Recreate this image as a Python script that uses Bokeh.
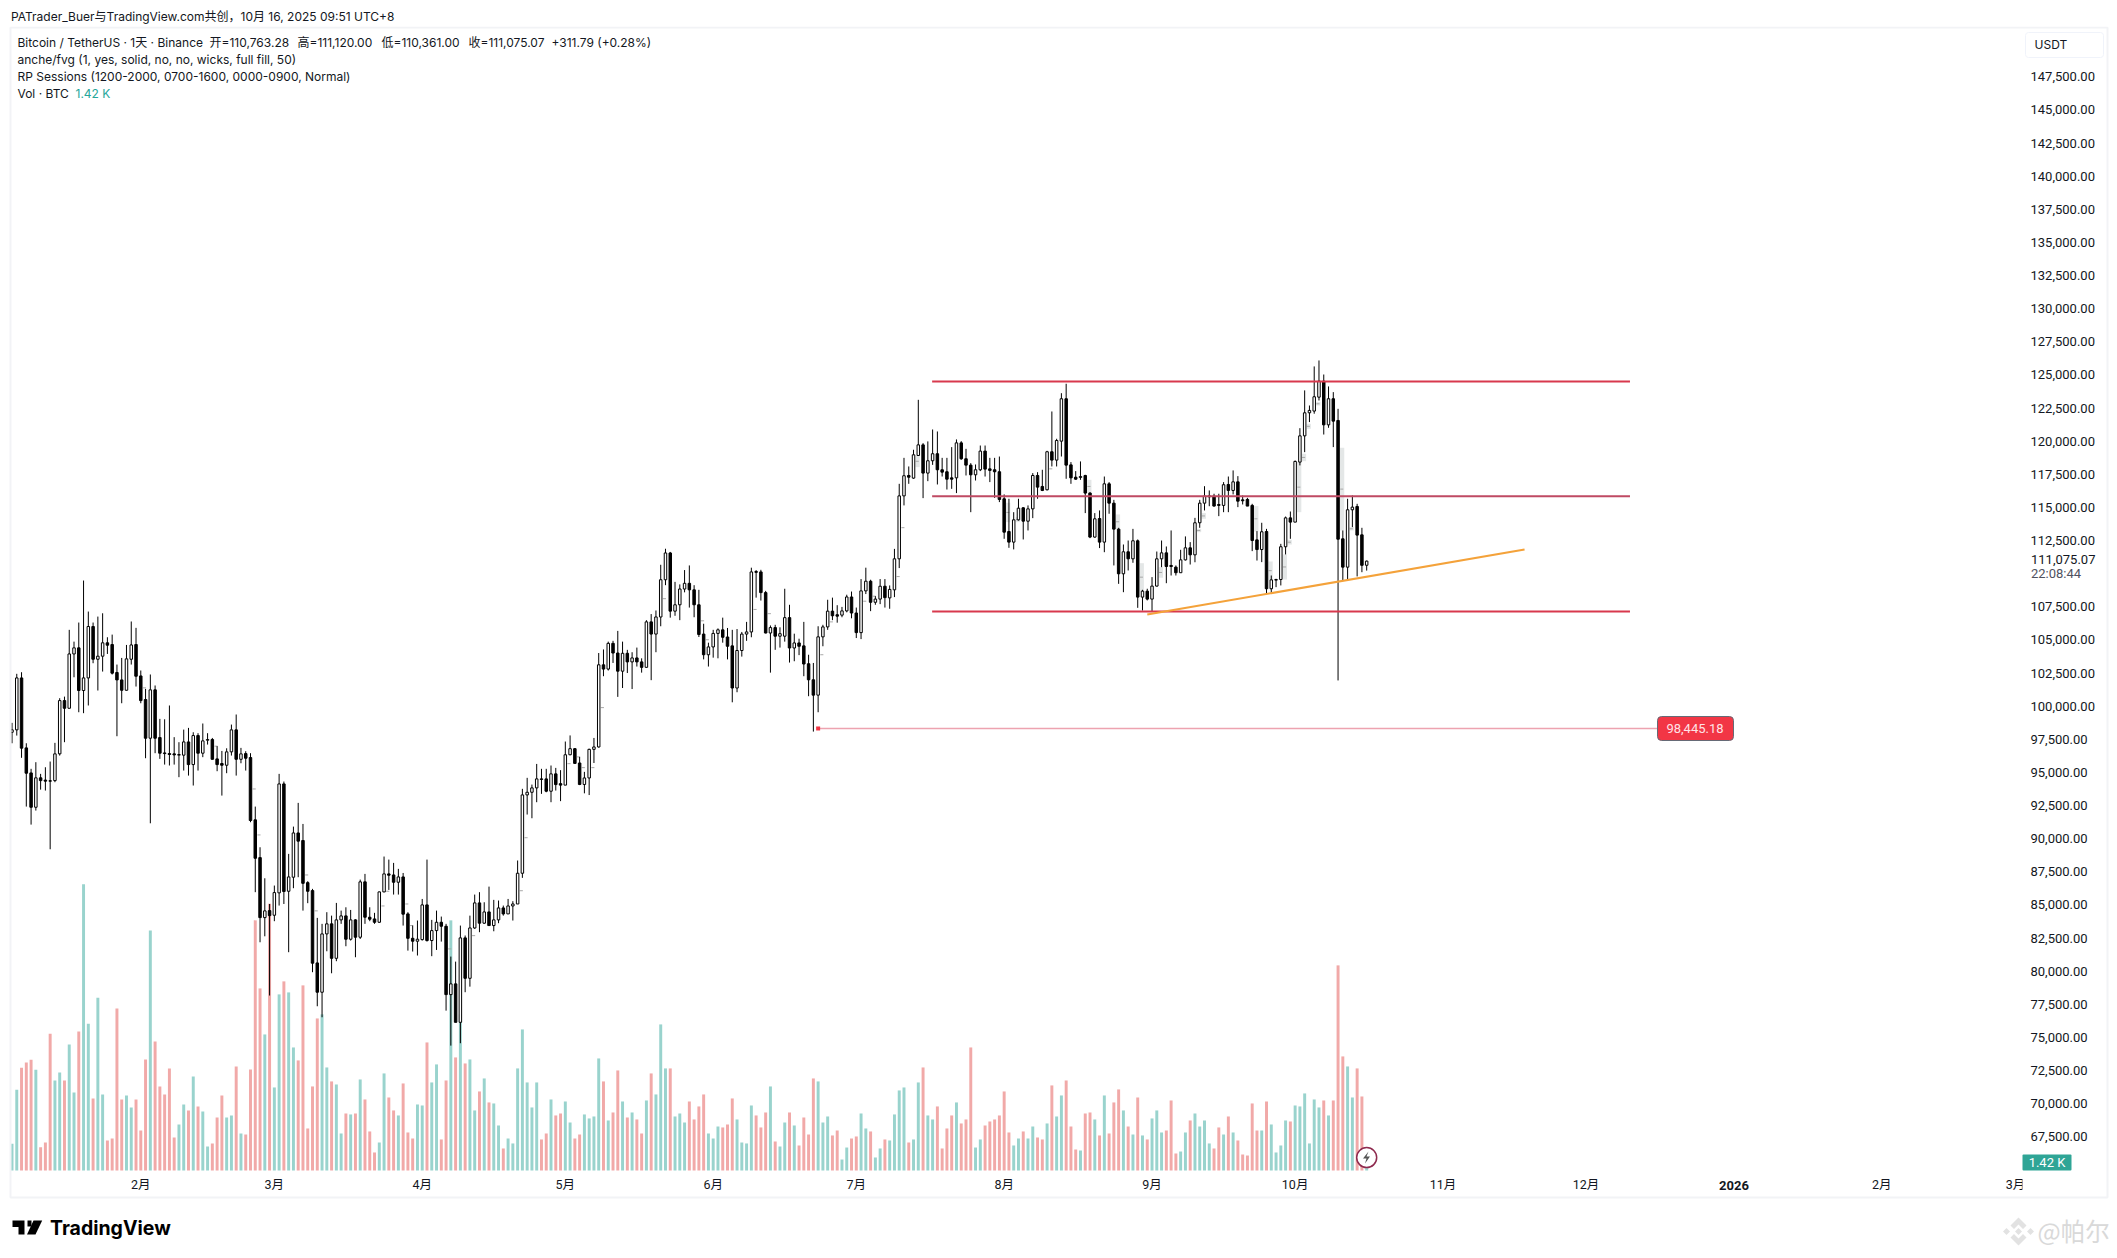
import numpy as np
from bokeh.plotting import figure
from bokeh.models import (Range1d, FixedTicker, NumeralTickFormatter, Label, BoxAnnotation,
                          PolyAnnotation, ColumnDataSource)
from bokeh.embed import file_html
from bokeh.resources import INLINE

# Daily BTC/USDT candles (thousands of USDT), first = 5 Jan 2025
opens = [98.16,98.34,102.26,96.98,95.09,92.50,94.72,94.55,94.50,94.51,
96.53,100.55,99.97,104.07,104.53,101.31,102.26,106.14,103.67,103.90,
104.91,104.78,102.67,102.11,101.33,103.67,104.78,102.41,100.63,97.71,
101.36,97.76,96.60,96.55,96.53,96.43,96.43,97.43,95.72,97.91,
96.58,97.56,97.61,96.15,95.80,95.67,96.68,98.34,96.12,96.55,
96.25,91.55,88.70,84.17,84.70,84.35,86.04,94.26,86.16,87.22,
90.56,89.99,86.81,86.21,80.75,78.54,82.94,83.70,81.10,84.0,
84.30,82.54,84.0,82.69,86.87,84.20,84.07,83.82,86.11,87.47,
87.39,86.84,87.24,84.45,82.61,82.39,82.51,85.13,82.44,83.19,
83.82,83.52,78.36,79.17,76.27,82.64,79.59,83.39,85.28,83.75,
84.60,83.57,84.0,84.90,84.45,85.05,85.20,87.52,93.43,93.63,
93.96,94.64,94.64,93.71,95.02,94.28,94.17,96.46,96.92,95.84,
94.22,94.71,96.87,97.05,103.25,102.93,104.87,104.14,102.77,104.12,
103.47,103.77,103.47,103.06,106.49,105.57,106.86,109.67,111.69,107.30,
107.78,108.97,109.40,108.91,107.78,105.57,104.01,104.60,105.62,105.89,
105.35,104.68,101.50,104.33,105.57,105.73,110.29,110.26,108.70,105.65,
106.06,105.41,105.41,106.81,104.52,104.90,104.68,103.33,102.12,100.96,
105.36,106.11,107.30,107.03,107.0,107.32,108.37,107.16,105.68,108.83,
109.56,107.97,108.21,109.18,108.30,108.91,111.25,116.0,117.54,117.34,
119.05,119.85,117.72,118.65,119.18,117.97,117.82,117.36,117.36,120.0,
118.80,118.32,117.59,117.97,119.38,118.04,117.97,117.82,115.78,113.31,
112.51,114.19,115.10,114.09,115.02,117.54,116.71,116.46,119.33,118.70,
120.13,123.33,118.34,117.41,117.39,117.54,116.21,112.89,114.29,112.51,
116.91,115.45,113.49,110.12,111.78,111.25,112.61,108.36,108.81,108.21,
109.19,111.25,111.70,110.75,110.62,110.20,111.17,112.08,111.55,113.97,
115.45,115.93,115.98,115.35,115.28,116.86,116.41,117.06,115.70,115.73,
115.28,112.68,111.95,113.31,108.99,109.64,109.69,112.16,114.34,114.02,
118.55,120.53,122.27,122.40,123.45,124.66,121.36,123.33,121.69,112.76,
110.62,114.95,115.20,113.06,110.76328]
highs = [98.87,102.57,102.69,97.33,95.40,95.90,95.02,95.52,95.95,97.36,
100.73,100.85,105.89,105.0,106.44,109.61,107.27,106.44,106.89,107.14,
105.33,105.53,103.27,103.77,104.75,106.52,106.04,102.82,101.43,102.52,
101.69,99.17,99.14,100.18,97.79,97.41,98.36,98.49,98.16,98.09,
98.82,98.09,97.73,97.11,96.75,96.95,98.74,99.50,96.98,96.73,
96.58,92.55,89.48,87.14,85.20,86.59,95.02,94.44,88.98,91.04,
92.83,91.24,86.92,86.34,84.15,83.70,84.58,84.32,85.28,84.70,
84.95,84.75,84.05,87.04,87.47,84.95,84.53,86.14,88.78,88.55,
88.30,87.85,87.54,84.58,83.57,83.95,85.58,88.55,84.0,84.70,
84.25,83.70,81.23,80.85,83.57,82.82,84.32,85.91,86.09,85.33,
86.51,85.51,85.46,85.08,85.58,85.41,88.48,93.89,94.72,94.21,
95.77,95.40,95.40,95.65,95.47,95.30,97.46,97.92,96.97,96.30,
95.17,96.92,97.73,104.14,104.41,105.0,105.06,105.81,105.0,104.38,
104.20,104.55,103.74,106.62,107.08,107.35,110.80,112.01,111.77,109.51,
109.32,110.40,110.75,109.26,108.91,106.35,104.92,105.89,106.0,106.81,
106.03,105.89,105.95,105.73,106.49,110.58,110.40,110.42,108.83,106.22,
106.27,106.08,108.99,107.78,105.60,105.22,106.49,104.01,103.39,106.16,
106.27,108.16,108.32,107.75,107.62,108.54,108.78,107.57,109.72,110.58,
109.67,108.43,109.72,109.72,109.24,112.0,116.91,118.87,118.22,119.48,
123.25,119.98,120.11,121.01,120.86,118.87,118.87,119.68,120.26,120.13,
119.55,118.47,118.37,119.80,119.80,118.87,118.87,118.97,116.11,115.78,
114.77,115.78,115.15,115.28,117.72,117.79,117.97,119.40,122.37,120.31,
123.75,124.46,118.55,117.87,118.60,117.59,116.28,114.70,114.90,117.46,
117.04,115.70,113.59,112.33,112.63,113.51,112.71,108.91,108.99,109.87,
111.80,112.63,112.18,113.39,110.75,111.93,112.94,112.51,114.34,115.70,
116.73,116.41,116.16,116.16,117.04,117.46,117.92,117.49,116.03,115.85,
115.40,113.34,113.97,113.51,109.99,109.74,112.38,114.44,114.82,118.67,
121.11,123.96,122.82,125.77,126.22,125.16,124.26,123.83,122.57,113.39,
115.78,116.03,115.40,113.59,111.12]
lows = [97.33,97.91,96.23,92.55,91.19,92.25,93.83,93.76,89.33,94.39,
96.40,97.41,99.97,102.31,99.67,99.60,100.18,103.37,101.31,102.74,
104.07,102.52,97.86,100.35,101.31,103.27,101.61,100.35,96.20,91.29,
96.58,96.15,95.72,95.65,95.72,94.77,95.27,94.89,94.14,95.27,
96.28,97.23,96.10,95.22,93.38,95.07,96.40,94.89,95.82,95.27,
91.37,86.09,82.31,82.76,78.29,83.90,85.08,85.20,81.56,86.39,
87.22,84.70,85.26,80.05,77.48,76.65,81.63,79.97,80.88,83.70,
82.01,82.44,81.18,82.56,83.70,83.90,83.70,83.77,86.09,86.26,
85.91,85.91,83.57,81.68,81.61,81.31,82.44,82.36,81.26,81.73,
82.36,77.15,74.51,76.27,74.69,78.54,78.96,83.32,83.07,83.70,
83.57,83.14,83.75,84.32,84.45,83.95,85.20,87.17,91.95,91.67,
92.88,93.51,93.63,92.88,93.76,92.96,94.17,96.43,95.79,94.17,
93.55,93.42,95.84,97.0,102.39,102.82,103.39,100.83,101.50,102.63,
101.42,103.12,102.66,103.04,102.09,104.20,106.16,109.26,106.81,106.95,
106.62,108.72,107.57,106.84,105.35,103.66,103.12,103.79,103.74,104.92,
103.66,100.42,101.18,103.87,105.06,105.33,108.32,108.10,105.62,102.66,
104.38,104.55,105.0,103.42,103.52,103.98,102.39,100.88,98.21,99.67,
104.65,105.89,106.62,106.43,106.84,107.21,106.76,105.27,105.19,108.59,
107.30,107.78,107.83,107.57,107.48,108.36,110.55,115.28,116.91,117.29,
119.02,115.83,117.11,118.34,116.86,117.46,116.48,116.53,116.21,118.72,
117.54,114.77,117.16,117.87,117.46,117.04,115.85,115.53,112.76,112.08,
111.96,114.14,112.71,113.39,114.32,115.78,116.36,116.41,118.22,118.22,
118.97,117.29,116.91,117.21,117.21,114.70,112.81,112.84,112.06,111.75,
114.65,110.75,109.36,108.73,110.37,110.95,107.55,107.35,108.11,107.30,
109.16,110.62,109.41,109.99,109.99,110.20,111.12,110.82,110.99,113.59,
114.90,115.22,115.20,114.47,114.77,114.77,116.11,115.15,115.35,115.23,
111.83,111.12,111.0,108.61,108.61,109.11,109.24,111.58,112.76,114.02,
118.30,119.30,121.57,122.20,123.20,120.63,121.14,119.68,102.07,109.62,
109.62,113.64,109.92,110.24,110.361]
closes = [98.34,102.26,96.96,95.07,92.50,94.72,94.51,94.47,94.47,96.53,
100.55,99.97,104.07,104.53,101.31,102.26,106.14,103.67,103.90,104.91,
104.73,102.62,102.11,101.33,103.70,104.75,102.39,100.55,97.71,101.36,
97.71,96.58,96.55,96.48,96.45,96.48,97.43,95.72,97.91,96.58,
97.51,97.61,96.12,95.72,95.67,96.68,98.34,96.12,96.53,96.20,
91.50,88.65,84.17,84.68,84.32,86.06,94.26,86.14,87.24,90.56,
89.94,86.76,86.16,80.73,78.54,82.94,83.70,81.10,84.0,84.30,
82.54,84.0,82.69,86.87,84.20,84.05,83.82,86.11,87.47,87.37,
86.84,87.24,84.43,82.61,82.39,82.54,85.13,82.44,83.19,83.82,
83.52,78.36,79.17,76.27,82.64,79.59,83.39,85.28,83.75,84.60,
83.57,84.0,84.90,84.45,85.05,85.20,87.52,93.43,93.63,93.96,
94.64,94.60,93.71,95.02,94.21,94.17,96.46,96.92,95.81,94.22,
94.71,96.87,97.05,103.25,102.93,104.87,104.14,102.77,104.12,103.47,
103.77,103.47,103.06,106.49,105.57,106.86,109.67,111.69,107.30,107.78,
108.97,109.40,108.91,107.78,105.54,104.01,104.60,105.62,105.89,105.33,
104.65,101.50,104.33,105.57,105.73,110.26,110.23,108.70,105.65,106.06,
105.41,105.60,106.81,104.52,104.90,104.65,103.31,102.12,100.96,105.36,
106.11,107.30,106.95,106.92,107.32,108.37,107.16,105.68,108.83,109.56,
107.97,108.21,109.18,108.32,108.94,111.25,116.0,117.52,117.41,119.10,
119.85,117.72,118.65,119.18,117.97,117.79,117.26,117.26,120.0,118.80,
118.32,117.59,117.97,119.38,118.02,117.92,117.82,115.73,113.26,112.51,
114.19,115.07,114.09,115.02,117.54,116.66,116.41,119.33,118.70,120.18,
123.33,118.32,117.36,117.26,117.46,116.21,112.89,114.27,112.51,116.91,
115.45,113.49,110.12,111.78,111.25,112.61,108.36,108.81,108.21,109.19,
111.25,111.70,110.67,110.67,110.20,111.17,112.08,111.55,113.97,115.45,
115.98,116.0,115.23,115.28,116.84,116.41,117.06,115.60,115.63,115.23,
112.63,111.95,113.29,108.99,109.66,109.69,112.16,114.34,114.02,118.60,
120.53,122.27,122.45,123.48,124.66,121.36,123.33,121.64,112.73,110.62,
114.95,115.15,113.04,110.76,111.07507]
# Volume in thousands of BTC
volumes = [4.74,14.33,18.23,19.18,19.65,17.88,4.14,4.97,24.27,15.98,
17.40,15.98,22.38,13.85,24.69,50.79,26.05,12.79,30.67,13.50,
5.33,5.68,28.77,12.61,13.32,11.19,12.61,7.10,19.71,42.62,
22.91,14.92,13.50,18.12,5.86,8.17,11.72,10.66,16.69,11.37,
10.48,4.26,4.80,9.41,13.32,9.41,9.77,18.47,6.57,6.39,
17.94,44.40,32.32,24.15,47.36,14.74,31.26,33.57,31.61,21.84,
19.54,32.86,7.46,14.92,26.99,27.71,18.29,15.81,15.27,6.57,
10.12,9.95,10.12,16.16,12.61,6.93,3.20,4.97,17.23,12.96,
10.66,9.77,15.45,6.75,5.68,11.72,11.54,22.73,15.63,18.83,
5.51,15.98,44.40,20.07,27.71,19.00,19.71,10.66,14.03,16.34,
12.08,11.90,7.99,3.91,5.68,4.80,18.12,25.04,15.63,11.19,
15.63,5.51,6.57,12.61,9.77,10.12,12.25,8.52,5.68,6.39,
9.95,9.24,9.59,19.89,15.81,8.88,10.30,17.76,12.25,9.41,
10.30,9.06,6.57,12.43,17.23,13.50,25.93,18.12,18.12,9.59,
10.12,8.52,12.25,9.06,11.37,13.50,6.57,5.68,7.81,7.64,
8.17,12.79,9.06,4.97,4.80,11.54,9.77,7.64,10.30,14.92,
5.15,4.26,8.52,10.30,7.99,4.44,9.41,6.39,16.34,15.81,
8.52,9.59,6.22,7.10,1.95,4.08,5.68,6.04,10.12,7.46,
6.93,2.31,3.91,5.51,5.33,9.95,14.21,14.74,4.97,5.51,
15.63,18.29,9.77,9.06,11.37,3.91,7.46,9.77,12.08,8.35,
9.06,21.84,4.08,5.51,7.99,8.70,9.06,9.77,14.03,6.75,
4.44,5.68,6.93,5.68,7.81,5.86,5.51,8.35,15.10,9.59,
13.32,15.98,7.81,3.73,3.55,10.12,10.30,9.06,6.22,13.32,
6.57,12.08,14.39,10.66,7.81,6.39,12.96,6.22,5.51,9.24,
10.66,6.75,7.10,12.43,3.02,3.37,6.75,8.88,10.12,7.81,
8.88,4.80,3.91,7.64,6.39,9.59,6.75,5.33,2.84,2.66,
11.90,7.10,7.10,12.25,8.17,3.20,4.44,8.88,8.70,11.54,
11.37,13.68,4.80,12.61,11.19,12.43,9.77,12.43,36.41,20.25,
18.47,12.96,18.12,13.14,1.42]

# Fair value gaps: candle index, upper and lower edge
fvg_day = [189,208,210,225,231,236,240,248,249,260,263,266,267,269,270,271,273,278,280]
fvg_top = [119.05,115.48,114.40,117.21,114.60,110.92,110.62,113.51,114.70,115.23,111.05,111.58,112.68,118.55,119.18,121.44,123.08,119.63,113.64]
fvg_bot = [118.17,114.02,114.02,116.21,113.49,108.81,109.82,113.26,114.27,113.31,109.66,109.69,112.33,114.77,118.62,121.06,122.82,113.39,113.39]
# Already filled gaps: only the midline is left
mid_day = [27,42,50,51,61,63,77,78,82,83,91,96,106,107,116,118,119,121,123,136,144,145,155,158,169,171,178,180,185,186,217]
mid_val = [101.51,97.11,93.88,90.41,87.39,84.68,85.05,86.16,85.20,83.57,81.81,82.81,86.20,90.20,95.79,96.30,95.49,95.49,100.02,108.24,106.57,105.14,107.43,107.11,104.01,106.49,108.05,108.43,109.91,113.60,118.04]

# Month ticks: candle index of the first day of each month
month_ticks = [27,55,86,116,147,177,208,239,269,300,330,392,420]
month_labels = ["2月","3月","4月","5月","6月","7月","8月","9月","10月","11月","12月","2月","3月"]
year_tick = 361
year_label = "2026"
# 110,000 gives way to the last-price label in the reference
price_ticks = [v for v in range(67500, 150000, 2500) if v != 110000]

range_levels = [124.64, 115.98, 107.27]
range_colors = ["#d8394d", "#bf4a63", "#d8394d"]
range_from, range_to = 192.9, 339.2
trend_day = [238.0, 317.1]
trend_val = [107.05, 111.95]
order_day, order_price = 169, 98445.18

# page pixel <-> data
PITCH, X0 = 4.77, 11.5
PXP, Y0 = 0.01325, 78.0
X = lambda px: (px - X0) / PITCH
Y = lambda py: 147500 - (py - Y0) / PXP

FONT = "Inter, 'Noto Sans CJK SC'"
NUM = "Roboto"
INK = "#131722"
W, H = 2112, 1254
FT = 26

p = figure(width=W, height=H, output_backend="svg", toolbar_location=None,
           x_range=Range1d(X(0), X(W)), y_range=Range1d(Y(H), Y(FT)),
           y_axis_location="right", min_border_left=0, min_border_right=0,
           min_border_top=FT, min_border_bottom=0, background_fill_color="white",
           border_fill_color="white", outline_line_color=None)
VK = 0.1775
LABEL_LIFT = 1.7  # the price labels sit this many px above their level, as in the reference
p.extra_y_ranges = {"vol": Range1d(-(H-1170)*VK, (1170-FT)*VK),
                    "scale": Range1d(Y(H + LABEL_LIFT), Y(FT + LABEL_LIFT))}
p.grid.visible = False

p.title.text = "PATrader_Buer与TradingView.com共创，10月 16, 2025 09:51 UTC+8"
p.title.text_font = FONT
p.title.text_font_size = "12px"
p.title.text_font_style = "normal"
p.title.text_color = INK
p.title.offset = 10.5
p.title.standoff = 5

yax = p.yaxis[0]
yax.y_range_name = "scale"
yax.fixed_location = X(2022)
yax.ticker = FixedTicker(ticks=price_ticks)
yax.formatter = NumeralTickFormatter(format="0,0.00")
yax.major_tick_line_color = None
yax.minor_tick_line_color = None
yax.major_tick_in = 0
yax.major_tick_out = 0
yax.minor_tick_in = 0
yax.minor_tick_out = 0
yax.axis_line_color = None
yax.major_label_standoff = 8
yax.major_label_text_font = NUM
yax.major_label_text_font_size = "13px"
yax.major_label_text_color = INK

xax = p.xaxis[0]
xax.fixed_location = Y(1172)
xax.ticker = FixedTicker(ticks=month_ticks)
xax.major_label_overrides = dict(zip(month_ticks, month_labels))
xax.major_tick_line_color = None
xax.minor_tick_line_color = None
xax.major_tick_in = 0
xax.major_tick_out = 0
xax.minor_tick_in = 0
xax.minor_tick_out = 0
xax.axis_line_color = None
xax.major_label_standoff = 4
xax.major_label_text_font = "Roboto, 'Noto Sans CJK SC'"
xax.major_label_text_font_size = "12.5px"
xax.major_label_text_color = INK

day = np.arange(len(opens))
o, h, l, c = [np.array(a) * 1000 for a in (opens, highs, lows, closes)]
up = c >= o
src = ColumnDataSource(dict(day=day, o=o, h=h, l=l, c=c, top=np.maximum(o, c), bot=np.minimum(o, c),
                            vol=volumes, vc=["#99d3cd" if u else "#f1a9a8" for u in up],
                            fc=["#ffffff" if u else "#000000" for u in up]))

# volume
p.vbar(x="day", top="vol", bottom=0, width=0.62, fill_color="vc", line_color=None, source=src, y_range_name="vol")

# fair value gaps
fd = np.array(fvg_day)
ft, fb = np.array(fvg_top) * 1000, np.array(fvg_bot) * 1000
p.quad(left=fd + 0.4, right=fd + 1.3, top=ft, bottom=fb, fill_color="#dfe3e3", fill_alpha=0.85, line_color=None)
p.segment(fd + 0.45, (ft + fb) / 2, fd + 1.1, (ft + fb) / 2, line_color="#a8a8a8", line_width=1)
md, mv = np.array(mid_day), np.array(mid_val) * 1000
p.segment(md + 0.45, mv, md + 1.1, mv, line_color="#a8a8a8", line_width=1)

# candles
p.segment("day", "h", "day", "l", line_color="#000000", line_width=1, source=src)
p.vbar(x="day", top="top", bottom="bot", width=0.52, fill_color="fc", line_color="#000000", line_width=1, source=src)

# drawings
for lv, col in zip(range_levels, range_colors):
    p.line([range_from, range_to], [lv * 1000, lv * 1000], line_color=col, line_width=2)
p.line(trend_day, [v * 1000 for v in trend_val], line_color="#f4a23a", line_width=2.2)
p.line([order_day, X(1657)], [order_price, order_price], line_color="#eda3b0", line_width=1.3)
p.scatter([order_day], [order_price], marker="square", size=4, fill_color="#f23645", line_color=None)

# real-time marker on the last volume bar
p.scatter([284], [2.3], marker="circle", size=20, fill_color="#ffffff", line_color="#8e2a4e", line_width=1.5, y_range_name="vol")


def txt(px, py, s, color=INK, size=12, font=FONT, align="left", style="normal"):
    p.add_layout(Label(x=X(px), y=Y(py), text=s, text_color=color, text_font_size=f"{size}px", text_font=font,
                       text_align=align, text_baseline="middle", text_font_style=style, level="overlay"))


def box(x0, y0, x1, y1, fill=None, line=None, lw=1, radius=0):
    p.add_layout(BoxAnnotation(left=X(x0), right=X(x1), top=Y(y0), bottom=Y(y1),
                               fill_color=fill, fill_alpha=1 if fill else 0, line_color=line, line_alpha=1 if line else 0,
                               line_width=lw, border_radius=radius, level="overlay", editable=False))


def poly(pts, fill):
    p.add_layout(PolyAnnotation(xs=[X(a) for a, b in pts], ys=[Y(b) for a, b in pts],
                                fill_color=fill, fill_alpha=1, line_color=None, level="overlay"))


# bolt in the marker
poly([(1368, 1151), (1362.5, 1158), (1366, 1158), (1364.5, 1163), (1369.5, 1156), (1366, 1156)], "#555555")

# legend
txt(17, 41.7, "Bitcoin / TetherUS · 1天 · Binance")
txt(209, 41.7, "开=110,763.28")
txt(297, 41.7, "高=111,120.00")
txt(381, 41.7, "低=110,361.00")
txt(468, 41.7, "收=111,075.07")
txt(551, 41.7, "+311.79 (+0.28%)")
txt(17, 58.7, "anche/fvg (1, yes, solid, no, no, wicks, full fill, 50)")
txt(17, 75.7, "RP Sessions (1200-2000, 0700-1600, 0000-0900, Normal)")
txt(17, 92.7, "Vol · BTC")
txt(75, 92.7, "1.42 K", color="#26a69a")

# clipped last month label and the bold year
box(2022, 1176, 2029, 1195, fill="#ffffff")
txt(X0 + year_tick * PITCH, 1184.5, year_label, align="center", font=NUM, size=13, style="bold")

# frame of the whole pane
box(10, 27, 2107, 1197, line="#f2f3f6", lw=2)

# price scale extras
box(2025, 32, 2103, 57, line="#f0f3fa", radius=3)
txt(2034, 43.5, "USDT", size=12, font="Inter")
txt(2030.5, 558.7, "111,075.07", font=NUM, size=13)
txt(2030.5, 572.8, "22:08:44", color="#4f5260", font=NUM, size=13)
box(2022, 1154, 2071, 1170, fill="#2fa596", radius=1)
txt(2046.5, 1162, "1.42 K", color="#ffffff", font=NUM, size=13, align="center")

# order label
box(1657, 716, 1733, 740, fill="#f23645", line="#666a76", lw=1, radius=4)
txt(1694.5, 728, "98,445.18", color="#ffe3e6", font=NUM, size=13, align="center")

# TradingView logo
poly([(12, 1220), (24, 1220), (24, 1234), (18, 1234), (18, 1226.5), (12, 1226.5)], "#000000")
poly([(27, 1220), (31, 1220), (31, 1226), (27, 1226)], "#000000")
poly([(33, 1220), (41.7, 1220), (35, 1234), (26.5, 1234)], "#000000")
txt(49.5, 1227, "TradingView", color="#000000", size=19.5, font="Inter", style="bold")

# watermark
WM = "#e2e2e2"
cx, cy = 2018, 1231
poly([(cx, cy-14), (cx+8, cy-6), (cx+4.5, cy-2.5), (cx, cy-7), (cx-4.5, cy-2.5), (cx-8, cy-6)], WM)
poly([(cx, cy+14), (cx+8, cy+6), (cx+4.5, cy+2.5), (cx, cy+7), (cx-4.5, cy+2.5), (cx-8, cy+6)], WM)
for dx in (-12, 0, 12):
    poly([(cx+dx, cy-3.5), (cx+dx+3.5, cy), (cx+dx, cy+3.5), (cx+dx-3.5, cy)], WM)
txt(2037, 1230, "@帕尔", color="#d9d9d9", size=24.5, font="'Noto Sans CJK SC'")

open("out.html", "w").write(file_html(p, INLINE))
